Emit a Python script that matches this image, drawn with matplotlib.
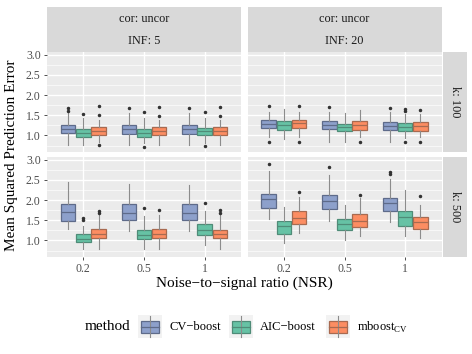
import numpy as np
import matplotlib
matplotlib.use("Agg")
import matplotlib.pyplot as plt
from matplotlib.patches import Rectangle

plt.rcParams['font.family'] = ['Liberation Serif', 'DejaVu Serif']
plt.rcParams['mathtext.fontset'] = 'custom'
plt.rcParams['mathtext.rm'] = 'Liberation Serif'

nsr = ["0.2", "0.5", "1"]
methods = ["CV\u2212boost", "AIC\u2212boost", "mboost$_{\\mathrm{CV}}$"]
colors = ["#8DA0CB", "#66C2A5", "#FC8D62"]
edges = ["#5E6B8A", "#4F8C78", "#A86A50"]
inf_labels = ["INF: 5", "INF: 20"]
k_labels = ["k: 100", "k: 500"]

# box stats per panel: rows = methods (CV, AIC, mboost), cols = NSR (0.2, 0.5, 1)
inf5_k100_lo = [[0.76, 0.76, 0.76], [0.77, 0.81, 0.82], [0.85, 0.76, 0.76]]
inf5_k100_q1 = [[1.06, 1.04, 1.03], [0.96, 0.97, 1.01], [1.02, 1.02, 1.00]]
inf5_k100_med = [[1.17, 1.17, 1.17], [1.06, 1.07, 1.10], [1.11, 1.11, 1.10]]
inf5_k100_q3 = [[1.26, 1.26, 1.26], [1.16, 1.15, 1.19], [1.21, 1.21, 1.20]]
inf5_k100_hi = [[1.55, 1.55, 1.55], [1.44, 1.43, 1.43], [1.39, 1.39, 1.39]]
inf5_k100_out = [[[1.69, 1.60], [1.69], [1.69]],
                 [[1.54], [1.57, 0.72], [1.57, 0.75]],
                 [[1.73, 1.50, 0.76], [1.70, 1.49], [1.70, 1.49]]]

inf20_k100_lo = [[0.97, 0.85, 0.85], [0.91, 0.85, 0.93], [0.97, 0.97, 0.96]]
inf20_k100_q1 = [[1.18, 1.16, 1.13], [1.13, 1.10, 1.12], [1.18, 1.14, 1.12]]
inf20_k100_med = [[1.29, 1.26, 1.24], [1.25, 1.20, 1.22], [1.30, 1.25, 1.23]]
inf20_k100_q3 = [[1.39, 1.36, 1.34], [1.36, 1.28, 1.30], [1.39, 1.35, 1.33]]
inf20_k100_hi = [[1.59, 1.59, 1.57], [1.66, 1.55, 1.53], [1.59, 1.64, 1.53]]
inf20_k100_out = [[[1.72, 0.85], [1.70], [1.68]],
                  [[], [], [1.66, 1.61, 0.85]],
                  [[1.72, 0.85], [0.85], [1.64, 0.85]]]

inf5_k500_lo = [[1.29, 1.24, 1.24], [0.78, 0.80, 0.88], [0.78, 0.78, 0.78]]
inf5_k500_q1 = [[1.49, 1.50, 1.51], [0.97, 1.03, 1.14], [1.07, 1.05, 1.05]]
inf5_k500_med = [[1.71, 1.69, 1.68], [1.04, 1.14, 1.26], [1.16, 1.15, 1.15]]
inf5_k500_q3 = [[1.90, 1.90, 1.90], [1.15, 1.26, 1.40], [1.29, 1.29, 1.27]]
inf5_k500_hi = [[2.45, 2.41, 2.38], [1.37, 1.61, 1.73], [1.62, 1.63, 1.62]]
inf5_k500_out = [[[], [], []],
                 [[1.55, 1.51], [1.81], [1.92]],
                 [[1.74, 1.68], [1.76], [1.76, 1.68]]]

inf20_k500_lo = [[1.54, 1.49, 1.45], [0.94, 1.02, 1.10], [1.19, 1.10, 1.06]]
inf20_k500_q1 = [[1.80, 1.77, 1.72], [1.17, 1.26, 1.37], [1.41, 1.34, 1.29]]
inf20_k500_med = [[2.02, 1.98, 1.92], [1.35, 1.40, 1.59], [1.55, 1.48, 1.47]]
inf20_k500_q3 = [[2.16, 2.14, 2.06], [1.48, 1.54, 1.72], [1.72, 1.65, 1.57]]
inf20_k500_hi = [[2.72, 2.63, 2.53], [1.82, 1.88, 2.24], [2.08, 2.06, 1.88]]
inf20_k500_out = [[[2.90], [2.81], [2.69, 2.65]],
                  [[], [], []],
                  [[2.20], [2.14], [2.11]]]

panels = {
    (0, 0): (inf5_k100_lo, inf5_k100_q1, inf5_k100_med, inf5_k100_q3, inf5_k100_hi, inf5_k100_out),
    (0, 1): (inf20_k100_lo, inf20_k100_q1, inf20_k100_med, inf20_k100_q3, inf20_k100_hi, inf20_k100_out),
    (1, 0): (inf5_k500_lo, inf5_k500_q1, inf5_k500_med, inf5_k500_q3, inf5_k500_hi, inf5_k500_out),
    (1, 1): (inf20_k500_lo, inf20_k500_q1, inf20_k500_med, inf20_k500_q3, inf20_k500_hi, inf20_k500_out),
}

W, H = 472, 354
fig = plt.figure(figsize=(W / 100, H / 100), dpi=100)


def add_px_axes(x0, y0, x1, y1):
    return fig.add_axes([x0 / W, 1 - y1 / H, (x1 - x0) / W, (y1 - y0) / H])


col_x = [(47, 241), (247.5, 441.5)]
row_y = [(52, 152), (157, 257)]
offsets = [-0.25, 0.0, 0.25]

for (r, c), (lo, q1, med, q3, hi, out) in panels.items():
    ax = add_px_axes(col_x[c][0], row_y[r][0], col_x[c][1], row_y[r][1])
    ax.set_facecolor("#EBEBEB")
    for m in range(3):
        stats = []
        for j in range(3):
            stats.append(dict(whislo=lo[m][j], q1=q1[m][j], med=med[m][j],
                              q3=q3[m][j], whishi=hi[m][j], fliers=out[m][j]))
        ax.bxp(stats, positions=np.arange(1, 4) + offsets[m], widths=0.24,
               patch_artist=True, showcaps=False, manage_ticks=False,
               boxprops=dict(facecolor=colors[m], edgecolor=edges[m], linewidth=0.9),
               medianprops=dict(color=edges[m], linewidth=0.9),
               whiskerprops=dict(color="#8C8C8C", linewidth=0.8),
               flierprops=dict(marker="o", markersize=1.5, markerfacecolor="#333333",
                               markeredgecolor="#333333", linestyle="none"))
    ax.set_xlim(0.4, 3.6)
    ax.set_ylim(0.59, 3.07)
    ax.set_yticks([1.0, 1.5, 2.0, 2.5, 3.0])
    ax.set_yticks([0.75, 1.25, 1.75, 2.25, 2.75], minor=True)
    ax.set_xticks([1, 2, 3])
    ax.grid(True, which="major", color="white", linewidth=1.0)
    ax.grid(True, which="minor", axis="y", color="white", linewidth=0.45)
    ax.set_axisbelow(True)
    for s in ax.spines.values():
        s.set_visible(False)
    ax.tick_params(which="major", length=2.5, width=0.6, color="#333333",
                   labelsize=8.5, labelcolor="#4D4D4D", pad=2)
    ax.tick_params(which="minor", length=0)
    if c == 0:
        ax.set_yticklabels(["1.0", "1.5", "2.0", "2.5", "3.0"])
    else:
        ax.set_yticklabels([])
        ax.tick_params(axis="y", which="major", length=0)
    if r == 1:
        ax.set_xticklabels(nsr)
    else:
        ax.set_xticklabels([])
        ax.tick_params(axis="x", which="major", length=0)

# strips
for c in range(2):
    sax = add_px_axes(col_x[c][0], 7, col_x[c][1], 51.5)
    sax.set_facecolor("#D9D9D9")
    sax.set_xticks([]); sax.set_yticks([])
    for s in sax.spines.values():
        s.set_visible(False)
    sax.text(0.5, 0.73, "cor: uncor", ha="center", va="center", fontsize=8.8,
             color="#1A1A1A", transform=sax.transAxes)
    sax.text(0.5, 0.23, inf_labels[c], ha="center", va="center", fontsize=8.8,
             color="#1A1A1A", transform=sax.transAxes)
for r in range(2):
    sax = add_px_axes(442.5, row_y[r][0], 467, row_y[r][1])
    sax.set_facecolor("#D9D9D9")
    sax.set_xticks([]); sax.set_yticks([])
    for s in sax.spines.values():
        s.set_visible(False)
    sax.text(0.5, 0.5, k_labels[r], ha="center", va="center", fontsize=8.8,
             color="#1A1A1A", rotation=-90, transform=sax.transAxes)

# axis titles
fig.text(12 / W, 1 - 155 / H, "Mean Squared Prediction Error", rotation=90,
         ha="center", va="center", fontsize=11)
fig.text(244 / W, 1 - 283 / H, "Noise\u2212to\u2212signal ratio (NSR)",
         ha="center", va="center", fontsize=11)

# legend
lax = fig.add_axes([0, 0, 1, 1], facecolor="none")
lax.set_xlim(0, W)
lax.set_ylim(H, 0)
lax.axis("off")
lax.text(85, 327, "method", ha="left", va="center", fontsize=11)
key_x = [138, 229, 326]
for i in range(3):
    kx = key_x[i]
    lax.add_patch(Rectangle((kx, 315), 24, 23, facecolor="#F2F2F2", edgecolor="none"))
    lax.plot([kx + 12, kx + 12], [316, 337], color="#8C8C8C", lw=0.8)
    lax.add_patch(Rectangle((kx + 3, 321), 18, 12, facecolor=colors[i],
                            edgecolor=edges[i], lw=0.9))
    lax.plot([kx + 3, kx + 21], [327, 327], color=edges[i], lw=0.9)
    lax.text(kx + 31, 327, methods[i], ha="left", va="center", fontsize=9)

fig.savefig("out.png", dpi=100)
